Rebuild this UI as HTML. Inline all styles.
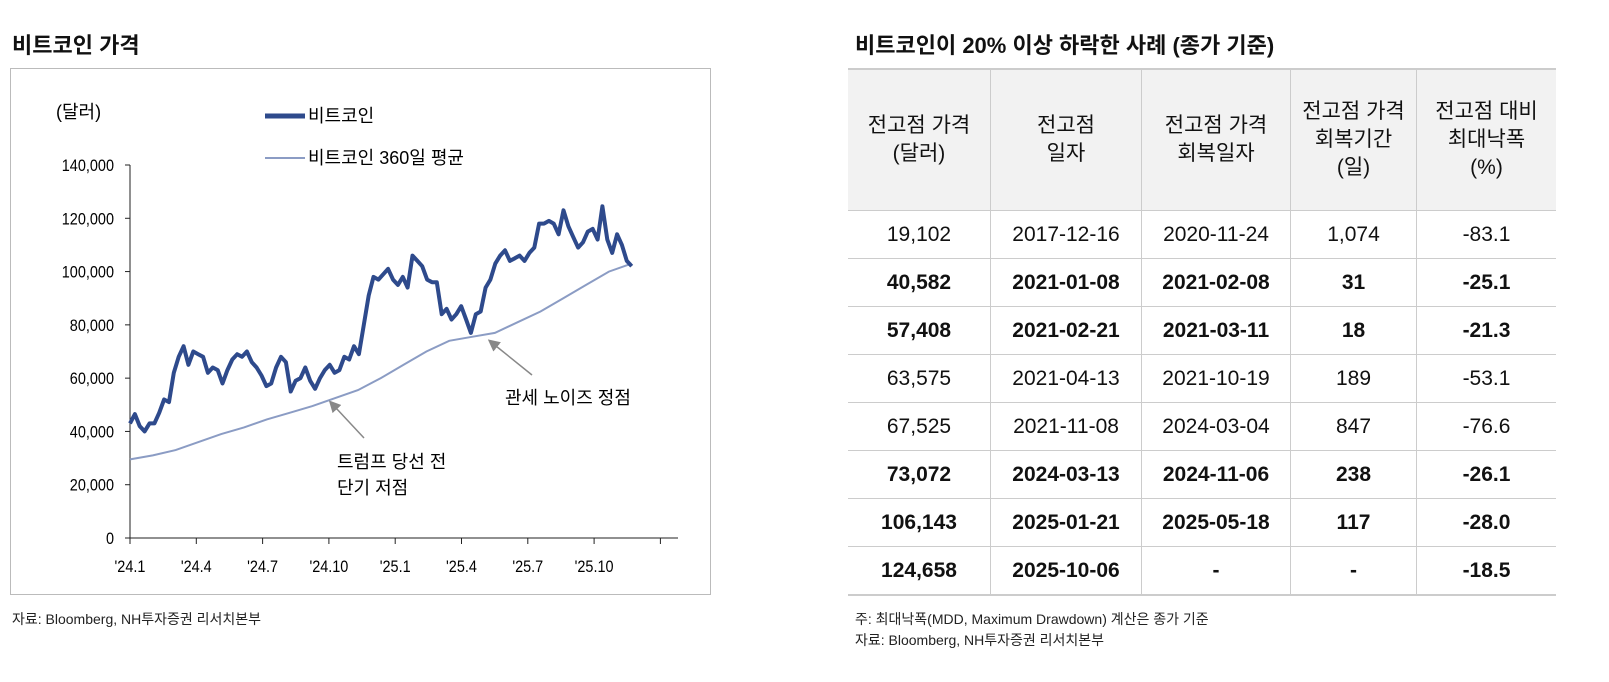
<!DOCTYPE html>
<html><head><meta charset="utf-8">
<style>
body{margin:0;width:1609px;height:682px;background:#fff;font-family:"Liberation Sans","Noto Sans CJK KR",sans-serif;position:relative;overflow:hidden;color:#111}
.title{position:absolute;top:28px;font-size:22px;font-weight:bold}
.src{position:absolute;font-size:14px;color:#222}
#frame{position:absolute;left:10px;top:68px;width:701px;height:527px;border:1px solid #bbb;box-sizing:border-box}
table{position:absolute;left:848px;top:68px;border-collapse:collapse;font-size:21px;text-align:center}
th{background:#f2f2f2;font-weight:normal;height:140px;border-left:1px solid #ccc;line-height:28px;padding:0}
td{height:47px;border-left:1px solid #ccc;border-top:1px solid #ccc;padding:0}
th:first-child,td:first-child{border-left:none}
tr.b td{font-weight:bold}
table{border-top:2px solid #ccc;border-bottom:2px solid #ccc}
</style></head><body>
<div class="title" style="left:12px">비트코인 가격</div>
<div class="title" style="left:855px">비트코인이 20% 이상 하락한 사례 (종가 기준)</div>
<div id="frame"></div>
<svg id="chart" width="720" height="600" style="position:absolute;left:0;top:0"></svg>
<div class="src" style="left:12px;top:609px">자료: Bloomberg, NH투자증권 리서치본부</div>

<table>
<tr><th style="width:142px">전고점 가격<br>(달러)</th><th style="width:150px">전고점<br>일자</th><th style="width:148px">전고점 가격<br>회복일자</th><th style="width:125px">전고점 가격<br>회복기간<br>(일)</th><th style="width:139px">전고점 대비<br>최대낙폭<br>(%)</th></tr>
<tr><td>19,102</td><td>2017-12-16</td><td>2020-11-24</td><td>1,074</td><td>-83.1</td></tr>
<tr class="b"><td>40,582</td><td>2021-01-08</td><td>2021-02-08</td><td>31</td><td>-25.1</td></tr>
<tr class="b"><td>57,408</td><td>2021-02-21</td><td>2021-03-11</td><td>18</td><td>-21.3</td></tr>
<tr><td>63,575</td><td>2021-04-13</td><td>2021-10-19</td><td>189</td><td>-53.1</td></tr>
<tr><td>67,525</td><td>2021-11-08</td><td>2024-03-04</td><td>847</td><td>-76.6</td></tr>
<tr class="b"><td>73,072</td><td>2024-03-13</td><td>2024-11-06</td><td>238</td><td>-26.1</td></tr>
<tr class="b"><td>106,143</td><td>2025-01-21</td><td>2025-05-18</td><td>117</td><td>-28.0</td></tr>
<tr class="b"><td>124,658</td><td>2025-10-06</td><td>-</td><td>-</td><td>-18.5</td></tr>
</table>
<div class="src" style="left:855px;top:609px">주: 최대낙폭(MDD, Maximum Drawdown) 계산은 종가 기준</div>
<div class="src" style="left:855px;top:630px">자료: Bloomberg, NH투자증권 리서치본부</div>

<script>
const yTicks=[0,20000,40000,60000,80000,100000,120000,140000];
const xTickLabels=["'24.1","'24.4","'24.7","'24.10","'25.1","'25.4","'25.7","'25.10"];
const btc=[43000,46500,42000,40000,43000,43000,47000,52000,51000,62000,68000,72000,65000,70000,69000,68000,62000,64000,63000,58000,63000,67000,69000,68000,70000,66000,64000,61000,57000,58000,64000,68000,66000,55000,59000,60000,64000,59000,56000,60000,63000,65000,62000,63000,68000,67000,72000,69000,80000,91000,98000,97000,99000,101000,97000,95000,98000,94000,106000,104000,102000,97000,96000,96000,84000,86000,82000,84000,87000,82000,77000,84000,85000,94000,97000,103000,106000,108000,104000,105000,106000,104000,107000,109000,118000,118000,119000,118000,114000,123000,117000,113000,109000,111000,115000,116000,112000,124500,112000,107000,114000,110000,104000,102000];
const ma=[29500,31000,33000,36000,39000,41500,44500,47000,49500,52500,55500,60000,65000,70000,74000,75500,77000,81000,85000,90000,95000,100000,103000];
const NS="http://www.w3.org/2000/svg";
const svg=document.getElementById('chart');
const X0=130,X1=678,Y0=538,MPX=22.1;
const y=v=>Y0-v/140000*373;
const xm=m=>X0+m*MPX;
const END=22.7;
function el(t,a,p){const e=document.createElementNS(NS,t);for(const k in a)e.setAttribute(k,a[k]);(p||svg).appendChild(e);return e;}
let ax=el('path',{d:`M${X0} ${y(140000)}V${Y0}H${X1}`,stroke:'#222','stroke-width':1,fill:'none'});


yTicks.forEach(v=>{
  el('line',{x1:X0-5,x2:X0,y1:y(v),y2:y(v),stroke:'#222'});
  const t=el('text',{x:X0-16,y:y(v)+6,'text-anchor':'end','font-size':17,transform:`translate(${X0-16},0) scale(0.85,1) translate(${-(X0-16)},0)`});
  t.textContent=v.toLocaleString('en-US');
  
  
});
for(let i=0;i<=8;i++){el('line',{x1:X0+i*3*MPX,x2:X0+i*3*MPX,y1:Y0,y2:Y0+6,stroke:'#222'});}
xTickLabels.forEach((l,i)=>{
  const cx=X0+i*3*MPX;
  const t=el('text',{x:cx,y:Y0+34,'text-anchor':'middle','font-size':17,transform:`translate(${cx},0) scale(0.85,1) translate(${-cx},0)`});
  t.textContent=l;
  
  
});
const maPath=el('path',{d:ma.map((v,i)=>(i?'L':'M')+xm(i*END/(ma.length-1)).toFixed(1)+' '+y(v).toFixed(1)).join(''),stroke:'#8b9cc4','stroke-width':2,fill:'none'});


const bPath=el('path',{d:btc.map((v,i)=>(i?'L':'M')+xm(i*END/(btc.length-1)).toFixed(1)+' '+y(v).toFixed(1)).join(''),stroke:'#2e4a8c','stroke-width':4,fill:'none','stroke-linejoin':'round'});


function txt(s,x,yy,size,name){const t=el('text',{x:x,y:yy,'font-size':size});t.textContent=s;return t;}
txt('(달러)',56,118,18,'y-axis-unit');
el('line',{x1:265,x2:305,y1:116,y2:116,stroke:'#2e4a8c','stroke-width':5});
txt('비트코인',308,122,18,'legend-bitcoin');
el('line',{x1:265,x2:305,y1:158,y2:158,stroke:'#8b9cc4','stroke-width':2});
txt('비트코인 360일 평균',308,164,18,'legend-ma360');
const defs=el('defs',{});
const mk=el('marker',{id:'ah',markerWidth:8,markerHeight:8,refX:1,refY:4,orient:'auto'},defs);
el('path',{d:'M0 0L8 4L0 8Z',fill:'#888'},mk);
el('line',{x1:364,y1:438,x2:336,y2:408,stroke:'#888','stroke-width':1.5,'marker-end':'url(#ah)'});
el('line',{x1:532,y1:375,x2:496,y2:346,stroke:'#888','stroke-width':1.5,'marker-end':'url(#ah)'});
txt('트럼프 당선 전',337,468,18,'annotation-trump');
txt('단기 저점',337,494,18,'annotation-trump-2');
txt('관세 노이즈 정점',505,404,18,'annotation-tariff');
</script>
</body></html>
